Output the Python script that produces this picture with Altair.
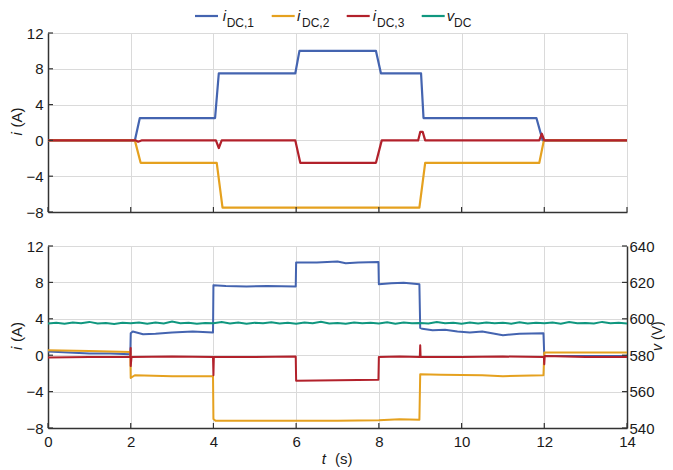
import altair as alt
import pandas as pd

FONT = "Liberation Sans"
TXT = "#1a1a1a"
AX = "#333333"
GRID = "#dadada"
COLORS = ["#4464b0", "#e5a11f", "#b2212b", "#10977f"]

X_TICKS = [0, 2, 4, 6, 8, 10, 12, 14]
I_TICKS = [-8, -4, 0, 4, 8, 12]
V_TICKS = [540, 560, 580, 600, 620, 640]

LEG_MAIN = ["i", "i", "i", "v"]
LEG_SUB = ["DC,1", "DC,2", "DC,3", "DC"]

# ---------------- top panel (simulation) ----------------
top_i1_t = [0, 2.1, 2.22, 4.04, 4.13, 5.98, 6.08, 7.93, 8.05, 9.02, 9.08, 11.81, 11.96, 14]
top_i1_v = [0, 0, 2.5, 2.5, 7.5, 7.5, 10.0, 10.0, 7.5, 7.5, 2.5, 2.5, 0, 0]
top_i2_t = [0, 2.1, 2.24, 4.08, 4.22, 8.98, 9.12, 11.88, 11.99, 14]
top_i2_v = [0, 0, -2.5, -2.5, -7.5, -7.5, -2.5, -2.5, 0, 0]
top_i3_t = [0, 2.12, 2.18, 2.26, 4.06, 4.13, 4.2, 5.98, 6.1, 7.93, 8.07, 8.95, 9.0,
            9.06, 9.12, 11.88, 11.94, 12.0, 14]
top_i3_v = [0, 0, -0.15, 0, 0, -0.85, 0, 0, -2.5, -2.5, 0, 0, 0.95,
            0.95, 0, 0, 0.75, 0, 0]

# ---------------- bottom panel (experiment) ----------------
bot_i1_t = [0, 0.5, 1.0, 1.5, 1.99, 2.0, 2.05, 2.3, 2.6, 3.0, 3.5, 3.99, 4.0, 4.3, 4.8,
            5.3, 5.99, 6.0, 6.5, 7.0, 7.2, 7.5, 7.99, 8.0, 8.3, 8.6, 8.98, 9.0, 9.05,
            9.3, 9.6, 9.9, 10.2, 10.5, 10.8, 11.0, 11.4, 11.98, 12.0, 12.5, 13.0, 13.5, 14.0]
bot_i1_v = [0.4, 0.3, 0.2, 0.2, 0.1, 2.4, 2.6, 2.3, 2.35, 2.5, 2.6, 2.5, 7.7, 7.6, 7.55,
            7.6, 7.55, 10.2, 10.2, 10.3, 10.1, 10.2, 10.25, 7.8, 7.9, 7.95, 7.8, 3.0, 2.9,
            2.75, 2.8, 2.6, 2.5, 2.6, 2.35, 2.2, 2.35, 2.4, -0.1, -0.1, -0.1, -0.1, -0.1]
bot_i2_t = [0, 1.0, 1.99, 2.0, 2.1, 3.0, 3.99, 4.0, 4.05, 5.0, 6.0, 7.0, 8.0, 8.5, 8.98,
            9.0, 9.5, 10.5, 11.0, 11.98, 12.0, 13.0, 14.0]
bot_i2_v = [0.55, 0.45, 0.35, -2.5, -2.2, -2.3, -2.3, -7.0, -7.2, -7.2, -7.2, -7.2, -7.15,
            -7.05, -7.1, -2.1, -2.15, -2.2, -2.3, -2.2, 0.3, 0.3, 0.3]
bot_i3_t = [0, 1.0, 1.99, 2.0, 2.0, 2.02, 3.0, 3.99, 4.0, 4.01, 5.0, 5.99, 6.0, 7.0, 7.99,
            8.0, 8.5, 8.99, 9.0, 9.01, 10.0, 11.0, 11.99, 12.0, 12.01, 13.0, 14.0]
bot_i3_v = [-0.25, -0.2, -0.2, 0.8, -1.2, -0.2, -0.15, -0.2, -2.2, -0.2, -0.2, -0.15, -2.8,
            -2.75, -2.7, -0.2, -0.15, -0.2, 1.1, -0.2, -0.2, -0.15, -0.2, -1.0, -0.1, -0.2, -0.2]
vdc_t = [0.0, 0.2, 0.4, 0.6, 0.8, 1.0, 1.2, 1.4, 1.6, 1.8,
         2.0, 2.2, 2.4, 2.6, 2.8, 3.0, 3.2, 3.4, 3.6, 3.8,
         4.0, 4.2, 4.4, 4.6, 4.8, 5.0, 5.2, 5.4, 5.6, 5.8,
         6.0, 6.2, 6.4, 6.6, 6.8, 7.0, 7.2, 7.4, 7.6, 7.8,
         8.0, 8.2, 8.4, 8.6, 8.8, 9.0, 9.2, 9.4, 9.6, 9.8,
         10.0, 10.2, 10.4, 10.6, 10.8, 11.0, 11.2, 11.4, 11.6, 11.8,
         12.0, 12.2, 12.4, 12.6, 12.8, 13.0, 13.2, 13.4, 13.6, 13.8, 14.0]
vdc_v = [597.4, 597.8, 597.3, 597.9, 597.5, 598.3, 597.4, 597.7, 597.2, 597.8,
         597.5, 598.0, 597.3, 597.9, 597.4, 598.5, 597.5, 597.8, 597.3, 597.7,
         597.5, 598.2, 597.4, 597.9, 597.3, 597.8, 597.6, 598.1, 597.4, 597.8,
         597.3, 597.9, 597.5, 598.4, 597.4, 597.7, 597.3, 598.0, 597.5, 597.8,
         597.4, 598.1, 597.3, 597.9, 597.5, 597.7, 597.4, 598.2, 597.5, 597.8,
         597.3, 597.9, 597.4, 598.0, 597.5, 597.8, 597.3, 598.1, 597.4, 597.8,
         597.5, 597.9, 597.3, 598.2, 597.5, 597.7, 597.4, 598.3, 597.5, 597.8, 597.4]

W, H1, H2 = 579, 179, 182
SER = ["i1", "i2", "i3"]


def series_df(t, v, name):
    return pd.DataFrame({"t": t, "v": v, "s": name, "k": list(range(len(t)))})


top_df = pd.concat([series_df(top_i1_t, top_i1_v, "i1"),
                    series_df(top_i2_t, top_i2_v, "i2"),
                    series_df(top_i3_t, top_i3_v, "i3")], ignore_index=True)
bot_df = pd.concat([series_df(bot_i1_t, bot_i1_v, "i1"),
                    series_df(bot_i2_t, bot_i2_v, "i2"),
                    series_df(bot_i3_t, bot_i3_v, "i3")], ignore_index=True)
vdc_df = pd.DataFrame({"t": vdc_t, "v": vdc_v, "k": list(range(len(vdc_t)))})

xscale = alt.Scale(domain=[0, 14], nice=False, zero=False)
iscale = alt.Scale(domain=[-8, 12], nice=False, zero=False)
vscale = alt.Scale(domain=[540, 640], nice=False, zero=False)
cscale = alt.Scale(domain=SER, range=COLORS[:3])

ONE = pd.DataFrame({"z": [0]})


def x_axis(show_labels):
    return alt.Axis(values=X_TICKS, labels=show_labels, ticks=False, title=None,
                    grid=True, domain=True, labelPadding=6, labelFlush=False, format="d")


I_AXIS = alt.Axis(values=I_TICKS, ticks=False, title=None, grid=True,
                  labelPadding=5, labelFlush=False, format="d")
V_AXIS = alt.Axis(orient="right", values=V_TICKS, ticks=False, title=None,
                  grid=False, labelPadding=2, labelFlush=False, format="d")


def i_lines(df, xa, sw):
    return alt.Chart(df).mark_line(strokeWidth=sw, strokeJoin="round").encode(
        x=alt.X("t:Q", scale=xscale, axis=xa),
        y=alt.Y("v:Q", scale=iscale, axis=I_AXIS),
        color=alt.Color("s:N", scale=cscale, legend=None),
        order="k:Q",
    )


def x_ticks(H, xa):
    return alt.Chart(pd.DataFrame({"t": X_TICKS})).mark_rule(color=AX, strokeWidth=1.2).encode(
        x=alt.X("t:Q", scale=xscale, axis=xa), y=alt.value(H), y2=alt.value(H - 5))


def y_ticks():
    return alt.Chart(pd.DataFrame({"v": I_TICKS})).mark_rule(color=AX, strokeWidth=1.2).encode(
        y=alt.Y("v:Q", scale=iscale, axis=I_AXIS), x=alt.value(0), x2=alt.value(5))


def txt(s, x, y, size=15, italic=False, angle=0, align="left", baseline="alphabetic"):
    kw = dict(font=FONT, fontSize=size, align=align, baseline=baseline, color=TXT)
    if italic:
        kw["fontStyle"] = "italic"
    if angle:
        kw["angle"] = angle
    return alt.Chart(ONE).mark_text(**kw).encode(
        x=alt.value(x), y=alt.value(y), text=alt.value(s))


def hline(x1, x2, y, color, sw):
    return alt.Chart(ONE).mark_rule(color=color, strokeWidth=sw).encode(
        x=alt.value(x1), x2=alt.value(x2), y=alt.value(y))


# legend (custom, with subscripts)
LEG_LINE_X = [147, 223.7, 298.7, 373.7]
LEG_MAIN_X = [174.7, 249.0, 324.7, 398.7]
LEG_SUB_X = [178.7, 254.0, 329.0, 406.0]
legend_layers = []
for k in range(4):
    legend_layers.append(hline(LEG_LINE_X[k], LEG_LINE_X[k] + 23, -17, COLORS[k], 2.2))
    legend_layers.append(txt(LEG_MAIN[k], LEG_MAIN_X[k], -12, size=15, italic=True))
    legend_layers.append(txt(LEG_SUB[k], LEG_SUB_X[k], -6, size=12))


def left_title(H):
    return [txt("i", -31, H / 2 + 13, italic=True, angle=270, baseline="middle"),
            txt("(A)", -31, H / 2 + 5, angle=270, baseline="middle")]


XA_TOP = x_axis(False)
XA_BOT = x_axis(True)

top = alt.layer(
    i_lines(top_df, XA_TOP, 2.2),
    x_ticks(H1, XA_TOP), y_ticks(),
    *legend_layers,
    *left_title(H1),
).properties(width=W, height=H1)

bot_i = alt.layer(
    i_lines(bot_df, XA_BOT, 2.0),
    x_ticks(H2, XA_BOT), y_ticks(),
    *left_title(H2),
    txt("t", 273.7, H2 + 36, italic=True),
    txt("(s)", 287, H2 + 36),
    txt("v", W + 31, H2 / 2 + 14, size=14, italic=True, angle=270, baseline="middle"),
    txt("(V)", W + 31, H2 / 2 + 3, size=14, angle=270, baseline="middle"),
)

bot_v = alt.layer(
    alt.Chart(vdc_df).mark_line(strokeWidth=2.0, color=COLORS[3]).encode(
        x=alt.X("t:Q", scale=xscale, axis=XA_BOT),
        y=alt.Y("v:Q", scale=vscale, axis=V_AXIS),
        order="k:Q",
    ),
    alt.Chart(pd.DataFrame({"v": V_TICKS})).mark_rule(color=AX, strokeWidth=1.2).encode(
        y=alt.Y("v:Q", scale=vscale, axis=V_AXIS), x=alt.value(W - 5), x2=alt.value(W)),
)

bottom = alt.layer(bot_i, bot_v).resolve_scale(y="independent").properties(width=W, height=H2)

# fixed geometry: plot origin at (40, 25) inside an svg of 657 x 462
chart = alt.vconcat(top, bottom, spacing=34, bounds="flush").properties(
    autosize=alt.AutoSizeParams(type="none"),
    padding={"left": 40, "top": 25, "right": 38, "bottom": 437},
).configure_view(stroke=None).configure_axis(
    domainColor=AX, domainWidth=1.5, gridColor=GRID, gridWidth=1,
    labelFont=FONT, labelFontSize=15, labelColor=TXT,
)

chart.save("out.html", embed_options={"renderer": "svg", "actions": False})
